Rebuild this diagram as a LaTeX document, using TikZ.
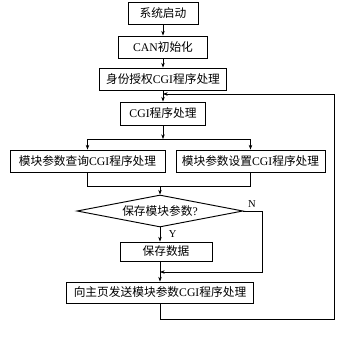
\documentclass[tikz,border=0pt]{standalone}
\usepackage{fontspec}
\setmainfont{Liberation Serif}
\newfontfamily\cjk{Noto Sans CJK SC}
\usetikzlibrary{positioning,arrows.meta,shapes.geometric}

\tikzset{
  procbox/.style={draw, line width=0.8pt, inner sep=0pt, minimum height=0.66cm,
    font=\fontsize{10}{12}\selectfont},
  decide/.style={draw, line width=0.8pt, diamond, aspect=5, inner sep=0pt,
    minimum width=4.98cm, minimum height=0.96cm, font=\fontsize{10}{12}\selectfont},
  flow/.style={line width=0.5pt},
}

\begin{document}
\begin{tikzpicture}[x=0.03cm, y=-0.03cm, >={Stealth[length=4pt,width=3pt]}]

\useasboundingbox (0,0) rectangle (356,337);

%% 框
\node[procbox, minimum width=2.1cm] (start) at (163,13) {\cjk 系统启动};
\node[procbox, minimum width=2.67cm] (caninit) at (163,47) {CAN{\cjk 初始化}};
\node[procbox, minimum width=3.81cm] (auth) at (163,79) {{\cjk 身份授权}CGI{\cjk 程序处理}};
\node[procbox, minimum width=2.55cm, minimum height=0.69cm] (cgi) at (163,113.5) {CGI{\cjk 程序处理}};

\node[procbox, minimum width=4.65cm] (query) at (87.5,161) {{\cjk 模块参数查询}CGI{\cjk 程序处理}};
\node[procbox, minimum width=4.47cm] (setup) at (250.5,161) {{\cjk 模块参数设置}CGI{\cjk 程序处理}};

\node[decide] (savechk) at (160,211) {{\cjk 保存模块参数}?};
\node[procbox, minimum width=2.76cm, minimum height=0.57cm] (savedata) at (166,251.5) {\cjk 保存数据};
\node[procbox, minimum width=5.61cm, minimum height=0.63cm] (send) at (160,292.5) {{\cjk 向主页发送模块参数}CGI{\cjk 程序处理}};

%% 点
\coordinate (split) at (163,139);
\coordinate (qdown) at (query.south |- 0,186);
\coordinate (sdown) at (setup.south |- 0,186);
\coordinate (merge) at (160,186);
\coordinate (nright) at (262,211);
\coordinate (njoin) at (160,272);
\coordinate (loopin) at (163,94);
\coordinate (loopbot) at (160,319);

%% 线
\draw[flow,->] (start) -- (caninit);
\draw[flow,->] (caninit) -- (auth);
\draw[flow,->] (auth) -- (cgi);
\draw[flow,->] (cgi) -- (split);
\draw[flow,->] (split) -| (query.north);
\draw[flow,->] (split) -| (setup.north);

\draw[flow] (query.south) -- (qdown) -- (sdown) -- (setup.south);
\draw[flow,->] (merge) -- (savechk.north);

\draw[flow,->] (savechk.south) -- node[right=4pt, font=\small, pos=0.45] (ylab) {Y} (savechk.south |- savedata.north);
\draw[flow] (savechk.east) -- (nright);
\draw[flow,->] (nright) |- (njoin);
\node[font=\small] (nlab) at (252,204) {N};
\draw[flow,->] (savechk.south |- savedata.south) -- (send);

%% 回路
\draw[flow,->] (send.south) -- (loopbot) -| (334,94) -- (loopin);

\end{tikzpicture}
\end{document}
